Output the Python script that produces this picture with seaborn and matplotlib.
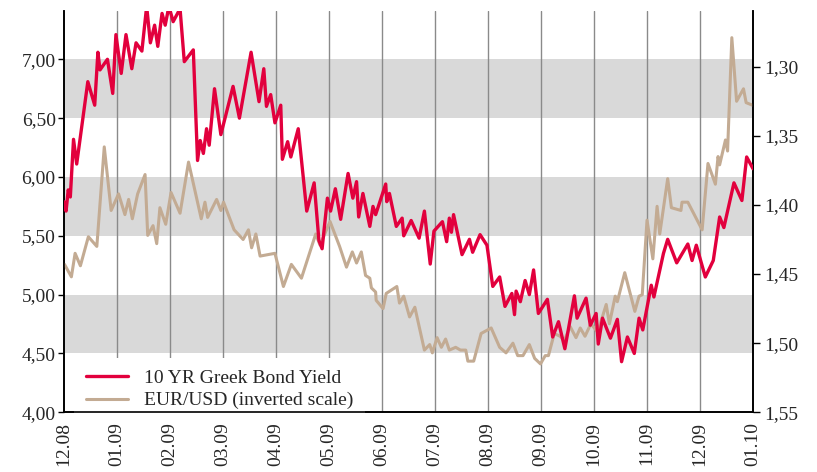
import numpy as np
import pandas as pd
import seaborn as sns
import matplotlib.pyplot as plt
import matplotlib.transforms as mtransforms
from matplotlib.patches import Rectangle

# Month labels on the x axis (position 0 = "12.08")
month_labels = ["12.08", "01.09", "02.09", "03.09", "04.09", "05.09", "06.09",
                "07.09", "08.09", "09.09", "10.09", "11.09", "12.09", "01.10"]

# 10 YR Greek bond yield, time in months since 12.08
yield_t = [0.00, 0.04, 0.08, 0.12, 0.18, 0.24, 0.45, 0.58, 0.64, 0.68, 0.82, 0.92,
           0.98, 1.08, 1.17, 1.28, 1.36, 1.47, 1.56, 1.63, 1.71, 1.77, 1.85, 1.91,
           1.98, 2.06, 2.19, 2.27, 2.44, 2.52, 2.57, 2.63, 2.69, 2.74, 2.84, 2.96,
           3.19, 3.31, 3.53, 3.68, 3.77, 3.82, 3.90, 3.98, 4.09, 4.12, 4.22, 4.28,
           4.42, 4.58, 4.72, 4.81, 4.87, 4.97, 5.03, 5.12, 5.22, 5.36, 5.45, 5.52,
           5.56, 5.64, 5.77, 5.83, 5.88, 6.07, 6.09, 6.14, 6.27, 6.38, 6.41, 6.55,
           6.70, 6.80, 6.91, 6.98, 7.14, 7.22, 7.27, 7.31, 7.35, 7.51, 7.65, 7.71,
           7.85, 7.98, 8.09, 8.22, 8.32, 8.45, 8.50, 8.53, 8.61, 8.70, 8.78, 8.86,
           8.95, 9.12, 9.22, 9.33, 9.45, 9.63, 9.68, 9.85, 9.93, 10.04, 10.08, 10.16,
           10.31, 10.44, 10.52, 10.63, 10.76, 10.85, 10.92, 11.08, 11.13, 11.31,
           11.39, 11.56, 11.77, 11.85, 11.93, 12.10, 12.25, 12.37, 12.45, 12.64,
           12.79, 12.88, 13.00]
yield_val = [5.79, 5.71, 5.89, 5.83, 6.32, 6.11, 6.81, 6.61, 7.06, 6.91, 7.00, 6.71,
             7.21, 6.88, 7.21, 6.92, 7.14, 7.07, 7.45, 7.14, 7.29, 7.11, 7.39, 7.29,
             7.45, 7.32, 7.43, 6.98, 7.08, 6.14, 6.31, 6.20, 6.41, 6.27, 6.75, 6.36,
             6.77, 6.50, 7.06, 6.64, 6.92, 6.60, 6.70, 6.46, 6.61, 6.15, 6.30, 6.17,
             6.41, 5.71, 5.95, 5.46, 5.39, 5.82, 5.71, 5.90, 5.64, 6.03, 5.82, 5.96,
             5.66, 5.86, 5.58, 5.75, 5.68, 5.94, 5.79, 5.86, 5.58, 5.65, 5.50, 5.63,
             5.48, 5.71, 5.26, 5.54, 5.62, 5.45, 5.65, 5.53, 5.68, 5.34, 5.47, 5.36,
             5.51, 5.42, 5.07, 5.15, 4.90, 5.01, 4.83, 5.03, 4.94, 5.12, 5.00, 5.21,
             4.84, 4.96, 4.64, 4.77, 4.54, 4.99, 4.80, 4.97, 4.74, 4.84, 4.58, 4.80,
             4.63, 4.79, 4.43, 4.64, 4.50, 4.80, 4.70, 5.08, 4.98, 5.35,
             5.47, 5.27, 5.43, 5.29, 5.42, 5.15, 5.29, 5.66, 5.57, 5.95,
             5.80, 6.17, 6.07]

# EUR/USD (right axis, inverted)
fx_t = [0.01, 0.14, 0.21, 0.31, 0.46, 0.62, 0.76, 0.89, 1.03, 1.15, 1.22, 1.29,
        1.39, 1.53, 1.58, 1.68, 1.75, 1.81, 1.92, 2.02, 2.19, 2.35, 2.59, 2.66,
        2.71, 2.88, 2.96, 3.01, 3.21, 3.38, 3.48, 3.54, 3.62, 3.70, 3.98, 4.14,
        4.29, 4.48, 4.75, 4.83, 5.02, 5.20, 5.33, 5.44, 5.52, 5.61, 5.69, 5.77,
        5.80, 5.88, 5.89, 6.02, 6.08, 6.28, 6.33, 6.41, 6.52, 6.62, 6.80, 6.90,
        6.95, 7.04, 7.12, 7.20, 7.27, 7.39, 7.48, 7.58, 7.62, 7.73, 7.87, 8.06,
        8.22, 8.34, 8.47, 8.56, 8.66, 8.78, 8.88, 8.99, 9.08, 9.14, 9.25, 9.36,
        9.44, 9.55, 9.66, 9.74, 9.83, 9.94, 10.07, 10.23, 10.29, 10.40, 10.44, 10.58,
        10.77, 10.85, 10.91, 11.00, 11.11, 11.19, 11.24, 11.39, 11.46, 11.64, 11.66, 11.77,
        12.04, 12.15, 12.29, 12.34, 12.37, 12.48, 12.52, 12.60, 12.69, 12.82, 12.87, 13.00]
fx_val = [1.443, 1.452, 1.435, 1.444, 1.423, 1.430, 1.358, 1.404, 1.392, 1.407, 1.396, 1.410,
          1.392, 1.378, 1.422, 1.415, 1.428, 1.402, 1.414, 1.391, 1.406, 1.369, 1.410, 1.398,
          1.409, 1.396, 1.404, 1.398, 1.418, 1.425, 1.418, 1.431, 1.421, 1.437, 1.435, 1.459,
          1.443, 1.453, 1.421, 1.429, 1.412, 1.430, 1.445, 1.434, 1.442, 1.434, 1.451, 1.453,
          1.460, 1.463, 1.469, 1.475, 1.464, 1.459, 1.471, 1.466, 1.481, 1.474, 1.505, 1.501,
          1.507, 1.496, 1.503, 1.497, 1.505, 1.503, 1.505, 1.505, 1.513, 1.513, 1.493, 1.489,
          1.503, 1.507, 1.500, 1.509, 1.509, 1.501, 1.511, 1.515, 1.509, 1.509, 1.493, 1.495,
          1.498, 1.488, 1.496, 1.489, 1.495, 1.486, 1.492, 1.472, 1.486, 1.466, 1.470, 1.449,
          1.477, 1.466, 1.465, 1.411, 1.439, 1.401, 1.421, 1.381, 1.402, 1.404, 1.398, 1.398,
          1.418, 1.370, 1.385, 1.365, 1.371, 1.353, 1.361, 1.279, 1.325, 1.316, 1.326, 1.328]

left_ticks = [4.0, 4.5, 5.0, 5.5, 6.0, 6.5, 7.0]
right_ticks = [1.30, 1.35, 1.40, 1.45, 1.50, 1.55]
bands = [(4.5, 5.0), (5.5, 6.0), (6.5, 7.0)]

assert len(yield_t) == len(yield_val) and len(fx_t) == len(fx_val)

df_yield = pd.DataFrame({"t": yield_t, "val": yield_val})
df_fx = pd.DataFrame({"t": fx_t, "val": fx_val})

sns.set_style("white")
plt.rcParams["font.family"] = ["Liberation Serif", "DejaVu Serif"]

RED = "#e2003d"
TAN = "#c3ab93"

fig = plt.figure(figsize=(8.17, 4.72), dpi=100)
ax = fig.add_axes([0.0783, 0.1265, 0.8434, 0.8508])
ax2 = ax.twinx()
ax.set_zorder(2)
ax2.set_zorder(1)
ax.patch.set_visible(False)

ax.set_xlim(0, 13)
ax.set_ylim(4.0, 7.413)
ax2.set_ylim(1.55, 1.2595)

# grey bands (left axis units) and month gridlines, behind both lines
trans = mtransforms.blended_transform_factory(ax2.transAxes, ax.transData)
for lo, hi in bands:
    ax2.add_patch(Rectangle((0, lo), 1, hi - lo, transform=trans,
                            facecolor="#d9d9d9", edgecolor="none", zorder=0))
for k in range(1, 13):
    ax2.axvline(k, color="#8a8a8a", lw=1.0, zorder=1)

sns.lineplot(data=df_fx, x="t", y="val", ax=ax2, color=TAN, lw=2.2,
             sort=False, label="EUR/USD (inverted scale)", zorder=3)
sns.lineplot(data=df_yield, x="t", y="val", ax=ax, color=RED, lw=2.4,
             sort=False, label="10 YR Greek Bond Yield", zorder=4)

ax.set_xticks(range(len(month_labels)))
ax.set_xticklabels(month_labels, rotation=90, fontsize=14)
ax.set_yticks(left_ticks)
ax.set_yticklabels([f"{v:.2f}".replace(".", ",") for v in left_ticks], fontsize=14)
ax2.set_yticks(right_ticks)
ax2.set_yticklabels([f"{v:.2f}".replace(".", ",") for v in right_ticks], fontsize=14)
ax.set_xlabel("")
ax.set_ylabel("")
ax2.set_ylabel("")

ax.tick_params(axis="x", direction="out", length=4, width=1, color="black", pad=3)
ax.tick_params(axis="y", direction="out", length=4, width=1, color="black", pad=2)
ax2.tick_params(axis="y", direction="out", length=5, width=1, color="black", pad=3)

for a in (ax, ax2):
    a.spines["top"].set_visible(False)
    for s in ("left", "right", "bottom"):
        a.spines[s].set_color("black")
        a.spines[s].set_linewidth(1.2)

h1, l1 = ax.get_legend_handles_labels()
h2, l2 = ax2.get_legend_handles_labels()
ax2.get_legend().remove()
leg = ax.legend(h1 + h2, l1 + l2, loc="lower left", bbox_to_anchor=(0.0145, -0.022),
                fontsize=14, frameon=True, facecolor="white", edgecolor="none",
                framealpha=1, fancybox=False, handlelength=2.2, handletextpad=0.8,
                borderpad=0.6, borderaxespad=0, labelspacing=0.25)
leg.set_zorder(2)

fig.savefig("out.png", dpi=100)
